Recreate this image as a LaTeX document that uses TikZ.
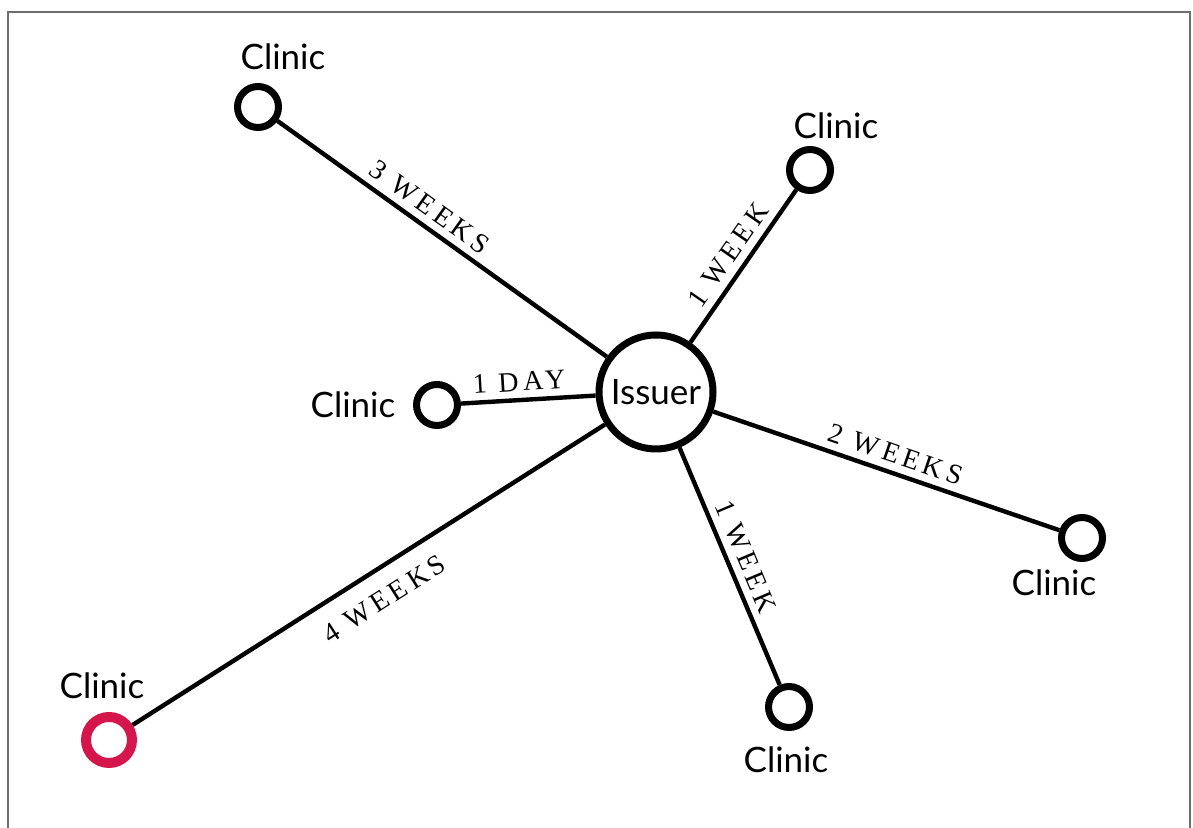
\documentclass[tikz,border=0pt]{standalone}
\usepackage{fontspec}
\usetikzlibrary{shadows}
\newfontfamily\gillfont{Lato}
\newfontfamily\capsfont[LetterSpace=16]{Liberation Serif}
\definecolor{clinicred}{RGB}{212,22,76}
\definecolor{framegray}{RGB}{110,110,110}

\begin{document}
\begin{tikzpicture}[x=0.5pt,y=0.5pt,
        site/.style={circle,draw=black,fill=white,line width=3.5pt,minimum size=20.5pt,inner sep=0pt,
            drop shadow={shadow xshift=1.5pt,shadow yshift=-1.5pt,opacity=0.15}},
        hub/.style={site,minimum size=57pt,font=\gillfont\fontsize{17.5}{20}\selectfont},
        sitename/.style={font=\gillfont\fontsize{17.5}{20}\selectfont,inner sep=0pt},
        link/.style={line width=2.2pt},
        wait/.style={font=\capsfont\fontsize{14}{16}\selectfont,sloped,above,inner sep=3.5pt}]
    \useasboundingbox (0,0) rectangle (1193,828);
    % frame
    \draw[framegray,line width=1pt] (8,0) -- (8,816) -- (1190,816) -- (1190,0);

    % issuer and clinics
    \node[hub] (issuer) at (656,436) {Issuer};
    \node[site] (c1) at (258,721) {};
    \node[site] (c2) at (810,658) {};
    \node[site] (c3) at (437,423) {};
    \node[site] (c4) at (1082,290) {};
    \node[site] (c5) at (789,121) {};
    \node[site,draw=clinicred,line width=5pt,minimum size=23pt] (c6) at (109,88) {};

    % clinic names
    \node[sitename] (n1) at (283,771) {Clinic};
    \node[sitename] (n2) at (836,702) {Clinic};
    \node[sitename] (n3) at (353,423) {Clinic};
    \node[sitename] (n4) at (1054,245) {Clinic};
    \node[sitename] (n5) at (786,68) {Clinic};
    \node[sitename] (n6) at (102,142) {Clinic};

    % links with waiting times
    \draw[link] (c1) -- node[wait,pos=0.43] (w1) {3 WEEKS} (issuer);
    \draw[link] (issuer) -- node[wait,pos=0.5] (w2) {1 WEEK} (c2);
    \draw[link] (c3) -- node[wait,pos=0.44] (w3) {1 DAY} (issuer);
    \draw[link] (issuer) -- node[wait,pos=0.51] (w4) {2 WEEKS} (c4);
    \draw[link] (issuer) -- node[wait,pos=0.49] (w5) {1 WEEK} (c5);
    \draw[link] (c6) -- node[wait,below,inner sep=8.5pt,pos=0.5] (w6) {4 WEEKS} (issuer);
\end{tikzpicture}
\end{document}
